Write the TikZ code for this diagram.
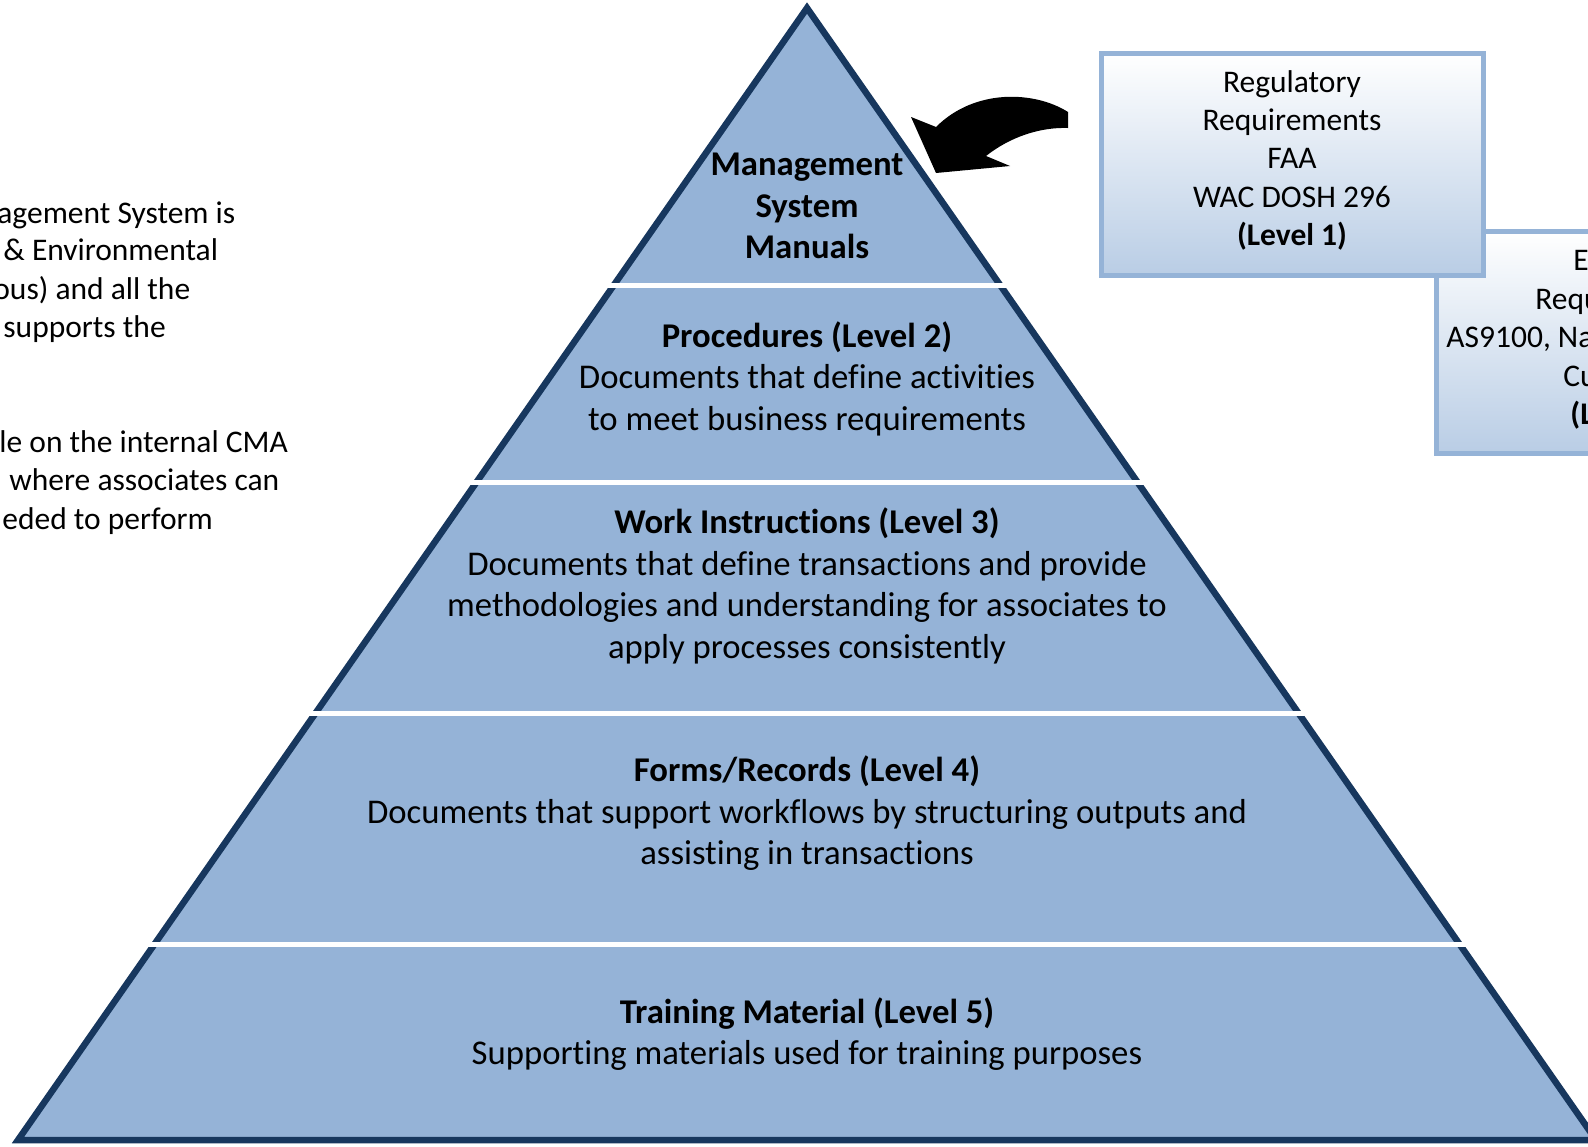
\documentclass[tikz,border=0pt]{standalone}
\usepackage{fontspec}
\setmainfont[Ligatures=NoCommon]{Carlito}
\usetikzlibrary{positioning,shadows}
\definecolor{pyrfill}{HTML}{95B3D7}
\definecolor{pyrline}{HTML}{17375E}
\definecolor{boxline}{HTML}{95B3D7}
\definecolor{boxlow}{HTML}{B9CDE5}
\newcommand{\bandfont}{\fontsize{17.35}{20.75}\selectfont}
\newcommand{\sidefont}{\fontsize{15.75}{19.2}\selectfont}
\tikzset{
  band/.style={align=center, font=\bandfont, inner sep=0pt},
  reqbox/.style={draw=boxline, line width=2.5pt, top color=white, bottom color=boxlow,
    minimum width=191pt, minimum height=111pt, align=center, font=\sidefont, inner sep=0pt,
    drop shadow={shadow xshift=1.5pt, shadow yshift=-1.5pt, fill=black, opacity=0.3}},
  side/.style={anchor=base west, font=\sidefont, inner sep=0pt},
}

\begin{document}
\begin{tikzpicture}[x=0.5pt, y=-0.5pt]
\useasboundingbox (0,0) rectangle (1588,1146);
\clip (0,0) rectangle (1588,1146);

% side text, cut at the left edge
\foreach \x/\y/\t [count=\i] in {-3/223.5/agement System is, 3/260.5/\& Environmental,
    -7/299.5/ous) and all the, 3/337.5/supports the, -1/452.5/le on the internal CMA,
    9/490.5/where associates can, 2/529/eded to perform}
  \node[side] (lt\i) at (\x,\y) {\t};

% pyramid
\coordinate (apex) at (807,8);
\coordinate (baseL) at (18,1140);
\coordinate (baseR) at (1596,1140);
\filldraw[fill=pyrfill, draw=pyrline, line width=3.25pt] (apex) -- (baseR) -- (baseL) -- cycle;
% gaps between the levels
\foreach \y/\l/\r in {285.6/601/1013, 482/464/1150, 713/303/1311, 944/142/1472}
  \draw[white, line width=2.5pt] (\l,\y) -- (\r,\y);

\node[band, font=\bandfont\bfseries] (msm) at (807,209) {\strut Management\\System\\Manuals\strut};
\node[band] (lvl2) at (807,380.5) {\strut\textbf{Procedures (Level 2)}\\Documents that define activities\\to meet business requirements\strut};
\node[band] (lvl3) at (807,587.5) {\strut\textbf{Work Instructions (Level 3)}\\Documents that define transactions and provide\\methodologies and understanding for associates to\\apply processes consistently\strut};
\node[band] (lvl4) at (807,815) {\strut\textbf{Forms/Records (Level 4)}\\Documents that support workflows by structuring outputs and\\assisting in transactions\strut};
\node[band] (lvl5) at (807,1035.5) {\strut\textbf{Training Material (Level 5)}\\Supporting materials used for training purposes\strut};

% requirement boxes
\node[reqbox] (ereq) at (1627,342) {};
\node[reqbox, on grid, above left=89pt and 167.5pt of ereq] (reg) {Regulatory\\Requirements\\FAA\\WAC DOSH 296\\\textbf{(Level 1)}\rule[-6pt]{0pt}{6pt}};
\node[side] (er1) at (1573,270.5) {E};
\node[side] (er2) at (1535,309.5) {Requ};
\node[side] (er3) at (1446,347.5) {AS9100, Na};
\node[side] (er4) at (1563,386.5) {Cu};
\node[side] (er5) at (1570,424.5) {\textbf{(L}};

% block arrow towards the top level
\fill[black] (1068,112) .. controls (1035,91) and (975,88) .. (936,127) -- (911,117) -- (936,173)
  -- (1010,166) -- (986,156) .. controls (1010,137) and (1040,127) .. (1068,128) -- cycle;
\end{tikzpicture}
\end{document}
